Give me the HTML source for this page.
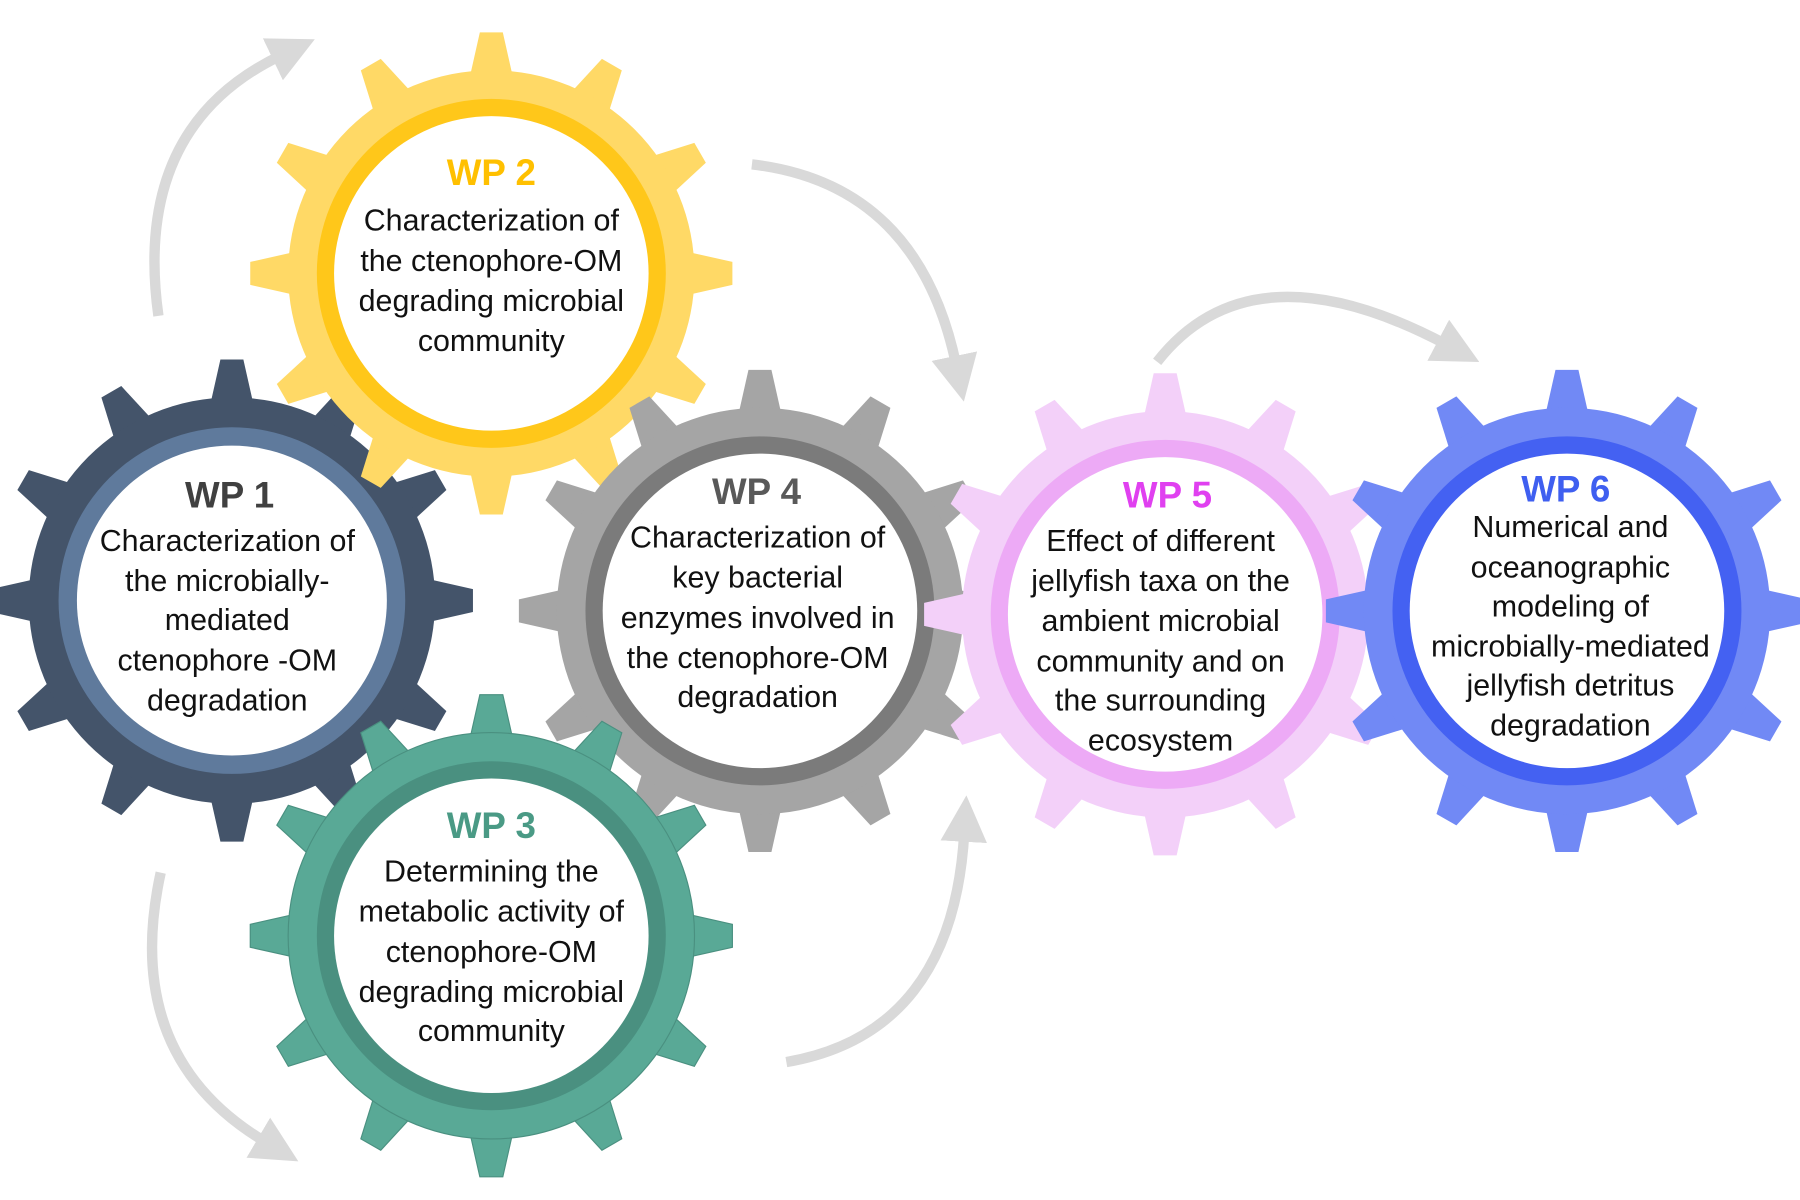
<!DOCTYPE html>
<html><head><meta charset="utf-8"><style>
html,body{margin:0;padding:0;background:#fff;}
svg{display:block}
text{font-family:"Liberation Sans",sans-serif;text-anchor:middle;dominant-baseline:central;}
.t{font-size:32px;font-weight:bold}
.b{font-size:26.5px;fill:#111}
</style></head><body>
<svg width="1800" height="1200" viewBox="0 0 1568 1045" xmlns="http://www.w3.org/2000/svg">
<defs>
<g id="teeth">
<polygon points="-10,-210 10,-210 19,-170 -19,-170"/>
<polygon points="-10,-210 10,-210 19,-170 -19,-170" transform="rotate(30)"/>
<polygon points="-10,-210 10,-210 19,-170 -19,-170" transform="rotate(60)"/>
<polygon points="-10,-210 10,-210 19,-170 -19,-170" transform="rotate(90)"/>
<polygon points="-10,-210 10,-210 19,-170 -19,-170" transform="rotate(120)"/>
<polygon points="-10,-210 10,-210 19,-170 -19,-170" transform="rotate(150)"/>
<polygon points="-10,-210 10,-210 19,-170 -19,-170" transform="rotate(180)"/>
<polygon points="-10,-210 10,-210 19,-170 -19,-170" transform="rotate(210)"/>
<polygon points="-10,-210 10,-210 19,-170 -19,-170" transform="rotate(240)"/>
<polygon points="-10,-210 10,-210 19,-170 -19,-170" transform="rotate(270)"/>
<polygon points="-10,-210 10,-210 19,-170 -19,-170" transform="rotate(300)"/>
<polygon points="-10,-210 10,-210 19,-170 -19,-170" transform="rotate(330)"/>
<circle r="177"/>
</g>
<marker id="ah" viewBox="0 0 10 10" refX="2" refY="5" markerWidth="4.5" markerHeight="4.5" orient="auto" markerUnits="strokeWidth">
<path d="M0,0 L10,5 L0,10 Z" fill="#d9d9d9"/>
</marker>
</defs>

<g fill="none" stroke="#d9d9d9" stroke-width="9" marker-end="url(#ah)">
<path d="M138,275 Q115,110 245,48"/>
<path d="M655,143 Q800,160 833,318"/>
<path d="M1008,315 Q1090,210 1260,300"/>
<path d="M140,760 Q105,920 232,995"/>
<path d="M685,925 Q830,900 840,725"/>
</g>

<g transform="translate(202,523)">
<use href="#teeth" fill="#44546a"/>
<circle r="151" fill="#5f7a9c"/><circle r="135" fill="#fff"/>
</g>
<g transform="translate(428,238)">
<use href="#teeth" fill="#ffd966"/>
<circle r="152" fill="#ffc71a"/><circle r="137" fill="#fff"/>
</g>
<g transform="translate(662,532)">
<use href="#teeth" fill="#a5a5a5"/>
<circle r="152" fill="#7b7b7b"/><circle r="137" fill="#fff"/>
</g>
<g transform="translate(428,815)">
<use href="#teeth" fill="#59a996" stroke="#4a9080" stroke-width="1"/>
<circle r="152" fill="#4a9080"/><circle r="137" fill="#fff"/>
</g>
<g transform="translate(1015,535)">
<use href="#teeth" fill="#f3d0f9"/>
<circle r="152" fill="#edaaf6"/><circle r="137" fill="#fff"/>
</g>
<g transform="translate(1365,532)">
<use href="#teeth" fill="#7189f5"/>
<circle r="152" fill="#4461f2"/><circle r="137" fill="#fff"/>
</g>

<text class="t" x="428" y="150" fill="#ffc000">WP 2</text>
<text class="b" x="428" y="192">Characterization of</text>
<text class="b" x="428" y="227">the ctenophore-OM</text>
<text class="b" x="428" y="262">degrading microbial</text>
<text class="b" x="428" y="297">community</text>

<text class="t" x="200" y="431" fill="#404040">WP 1</text>
<text class="b" x="198" y="471">Characterization of</text>
<text class="b" x="198" y="506">the microbially-</text>
<text class="b" x="198" y="540">mediated</text>
<text class="b" x="198" y="575">ctenophore -OM</text>
<text class="b" x="198" y="610">degradation</text>

<text class="t" x="428" y="719" fill="#4a9a85">WP 3</text>
<text class="b" x="428" y="759">Determining the</text>
<text class="b" x="428" y="794">metabolic activity of</text>
<text class="b" x="428" y="829">ctenophore-OM</text>
<text class="b" x="428" y="864">degrading microbial</text>
<text class="b" x="428" y="898">community</text>

<text class="t" x="659" y="428" fill="#595959">WP 4</text>
<text class="b" x="660" y="468">Characterization of</text>
<text class="b" x="660" y="503">key bacterial</text>
<text class="b" x="660" y="538">enzymes involved in</text>
<text class="b" x="660" y="573">the ctenophore-OM</text>
<text class="b" x="660" y="607">degradation</text>

<text class="t" x="1017" y="431" fill="#e040f0">WP 5</text>
<text class="b" x="1011" y="471">Effect of different</text>
<text class="b" x="1011" y="506">jellyfish taxa on the</text>
<text class="b" x="1011" y="541">ambient microbial</text>
<text class="b" x="1011" y="576">community and on</text>
<text class="b" x="1011" y="610">the surrounding</text>
<text class="b" x="1011" y="645">ecosystem</text>

<text class="t" x="1364" y="426" fill="#3f5ff0">WP 6</text>
<text class="b" x="1368" y="459">Numerical and</text>
<text class="b" x="1368" y="494">oceanographic</text>
<text class="b" x="1368" y="528">modeling of</text>
<text class="b" x="1368" y="563">microbially-mediated</text>
<text class="b" x="1368" y="597">jellyfish detritus</text>
<text class="b" x="1368" y="632">degradation</text>
</svg>
</body></html>
